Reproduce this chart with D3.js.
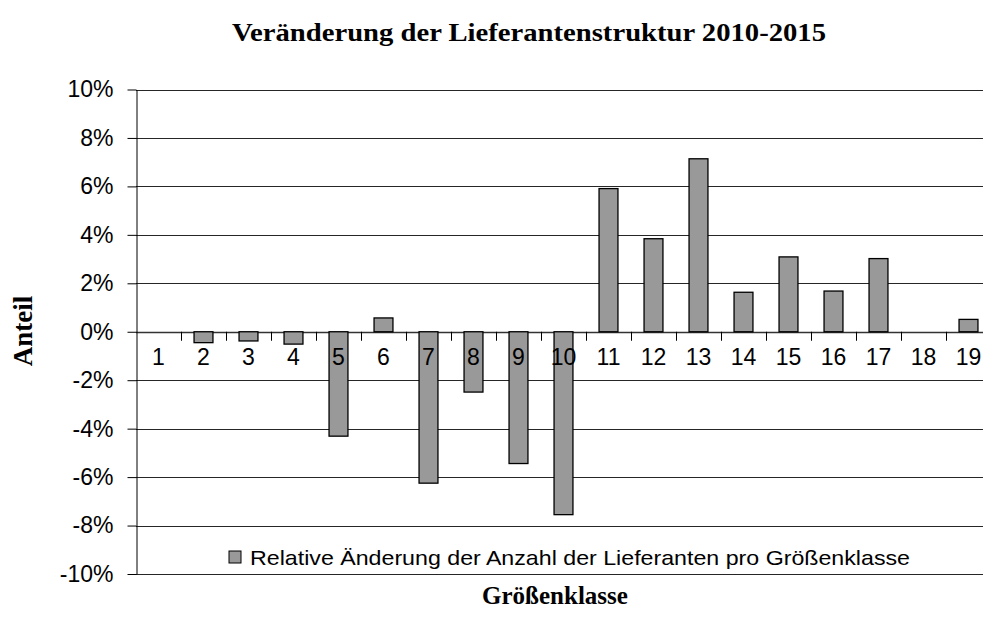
<!DOCTYPE html>
<html>
<head>
<meta charset="utf-8">
<script src="https://cdn.jsdelivr.net/npm/d3@7"></script>
<style>
  body { margin: 0; background: #fff; }
  svg { display: block; }
  .tick text { font-family: "Liberation Sans", Arial, sans-serif; }
</style>
</head>
<body>
<div id="chart"></div>
<script>
const categories = ["1","2","3","4","5","6","7","8","9","10","11","12","13","14","15","16","17","18","19"];
const values = [0, -0.45, -0.38, -0.51, -4.31, 0.57, -6.25, -2.49, -5.44, -7.55,
  5.91, 3.84, 7.14, 1.63, 3.09, 1.68, 3.02, 0, 0.51];
const yTicks = [-10, -8, -6, -4, -2, 0, 2, 4, 6, 8, 10];
const title = "Veränderung der Lieferantenstruktur 2010-2015";
const seriesName = "Relative Änderung der Anzahl der Lieferanten pro Größenklasse";

const width = 983, height = 635;
const data = categories.map((c, i) => ({ cat: c, value: values[i] }));

const svg = d3.select("#chart").append("svg")
  .attr("width", width).attr("height", height);

const x = d3.scaleBand()
  .domain(categories)
  .range([136, 991])
  .paddingInner(0.58)
  .paddingOuter(0.29);

const y = d3.scaleLinear().domain([-10, 10]).range([574, 89.5]);

// gridlines
svg.append("g")
  .selectAll("line")
  .data(yTicks)
  .join("line")
  .attr("x1", 136).attr("x2", 991)
  .attr("y1", d => Math.round(y(d)) + 0.5)
  .attr("y2", d => Math.round(y(d)) + 0.5)
  .attr("stroke", d => d === 0 ? "#333" : "#000")
  .attr("stroke-width", d => d === 0 ? 1.5 : 1)
  .attr("stroke-opacity", d => d === 0 ? 1 : 0.85);

// y axis
const yAxis = svg.append("g")
  .attr("transform", "translate(136.5,0)")
  .call(d3.axisLeft(y).tickValues(yTicks).tickSize(9).tickSizeOuter(0)
    .tickFormat(d => d + "%"));
yAxis.select(".domain").attr("stroke", "#000");
yAxis.selectAll(".tick line").attr("stroke", "#000");
yAxis.selectAll(".tick text")
  .attr("x", -23)
  .attr("font-size", 23)
  .attr("fill", "#000");

// x tick marks at category boundaries, below the zero line
const bounds = categories.slice(1).map(c => x(c) - x.step() * x.paddingInner() / 2);
svg.append("g")
  .selectAll("line")
  .data(bounds)
  .join("line")
  .attr("x1", d => Math.round(d) + 0.5).attr("x2", d => Math.round(d) + 0.5)
  .attr("y1", y(0)).attr("y2", y(0) + 9)
  .attr("stroke", "#000");

// bars
svg.append("g")
  .selectAll("rect")
  .data(data.filter(d => d.value !== 0))
  .join("rect")
  .attr("x", d => x(d.cat))
  .attr("width", x.bandwidth())
  .attr("y", d => y(Math.max(0, d.value)))
  .attr("height", d => Math.abs(y(d.value) - y(0)))
  .attr("fill", "#999999")
  .attr("stroke", "#000")
  .attr("stroke-width", 1.3);

// category labels
svg.append("g")
  .selectAll("text")
  .data(categories)
  .join("text")
  .attr("x", d => x(d) + x.bandwidth() / 2)
  .attr("y", 365)
  .attr("text-anchor", "middle")
  .attr("font-family", "Liberation Sans, Arial, sans-serif")
  .attr("font-size", 23)
  .text(d => d);

// legend
const legend = svg.append("g").attr("transform", "translate(229,551)");
legend.append("rect")
  .attr("width", 12).attr("height", 12)
  .attr("fill", "#999999").attr("stroke", "#000").attr("stroke-width", 1);
legend.append("text")
  .attr("x", 21).attr("y", 14)
  .attr("font-family", "Liberation Sans, Arial, sans-serif")
  .attr("font-size", 21)
  .attr("textLength", 660)
  .attr("lengthAdjust", "spacingAndGlyphs")
  .text(seriesName);

// titles
svg.append("text")
  .attr("x", 529).attr("y", 41)
  .attr("text-anchor", "middle")
  .attr("font-family", "Liberation Serif, Times New Roman, serif")
  .attr("font-weight", "bold")
  .attr("font-size", 26)
  .attr("textLength", 594)
  .attr("lengthAdjust", "spacingAndGlyphs")
  .text(title);

svg.append("text")
  .attr("transform", "translate(32,331) rotate(-90)")
  .attr("text-anchor", "middle")
  .attr("font-family", "Liberation Serif, Times New Roman, serif")
  .attr("font-weight", "bold")
  .attr("font-size", 27)
  .text("Anteil");

svg.append("text")
  .attr("x", 555).attr("y", 604)
  .attr("text-anchor", "middle")
  .attr("font-family", "Liberation Serif, Times New Roman, serif")
  .attr("font-weight", "bold")
  .attr("font-size", 25)
  .text("Größenklasse");
</script>
</body>
</html>
